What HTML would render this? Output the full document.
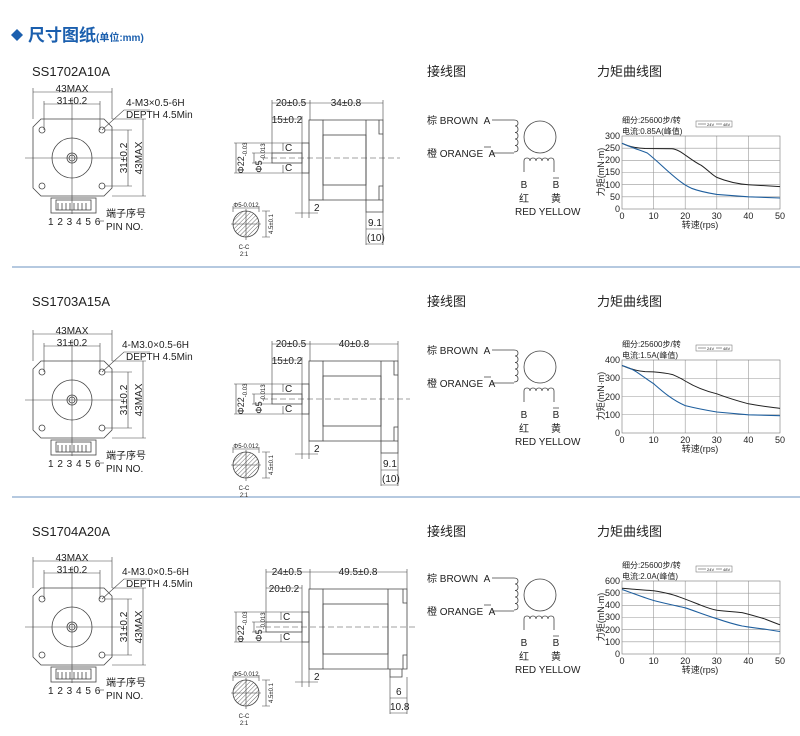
<!DOCTYPE html>
<html><head><meta charset="utf-8"><style>
html,body{margin:0;padding:0;background:#fff;}
svg{display:block;}
text{font-family:"Liberation Sans","Noto Sans CJK SC",sans-serif;fill:#222;}
</style></head><body>
<svg width="800" height="736" viewBox="0 0 800 736" xmlns="http://www.w3.org/2000/svg">
<defs>
<pattern id="hatch" width="3" height="3" patternUnits="userSpaceOnUse" patternTransform="rotate(45)"><line x1="0" y1="0" x2="0" y2="3" stroke="#444" stroke-width="0.8"/></pattern>
<g id="front" fill="none" stroke="#444" stroke-width="0.8">
<polygon points="41,119 104,119 112,127 112,188 104,196 41,196 33,188 33,127"/>
<circle cx="72" cy="158" r="20"/><circle cx="72" cy="158" r="5"/><circle cx="72" cy="158" r="3"/>
<circle cx="42" cy="130" r="3"/><circle cx="102" cy="130" r="3"/><circle cx="42" cy="186" r="3"/><circle cx="102" cy="186" r="3"/>
<line x1="25" y1="158" x2="122" y2="158" stroke-width="0.6"/><line x1="72" y1="97" x2="72" y2="214" stroke-width="0.6"/>
<rect x="51" y="198" width="45" height="15"/><rect x="56" y="200" width="35" height="10"/>
<path d="M58,203v7M62,203v7M66,203v7M70,203v7M74,203v7M78,203v7M82,203v7M86,203v7"/>
<path d="M33,119V88M112,119V88M33,92H112M44,130V101M100,130V101M44,104H100" stroke-width="0.6"/>
<path d="M104,130H132M104,186H132M128,130V186M112,119H146M112,196H146M143,119V196" stroke-width="0.6"/>
<path d="M102,130L124,110H150" stroke-width="0.6"/>
<path d="M98,221H104" stroke-width="0.6"/>
</g>
</defs>

<!-- header -->
<polygon points="17,29 23,35 17,41 11,35" fill="#1b5fae"/>
<text x="28" y="41" style="font-size:17px;fill:#1b5fae;font-weight:bold">尺寸图纸<tspan style="font-size:10px">(单位:mm)</tspan></text>

<line x1="12" y1="267" x2="800" y2="267" stroke="#6b93c0" stroke-width="1"/>
<line x1="12" y1="497" x2="800" y2="497" stroke="#6b93c0" stroke-width="1"/>

<!-- titles -->
<g style="font-size:13px">
<text x="32" y="76">SS1702A10A</text><text x="32" y="306">SS1703A15A</text><text x="32" y="536">SS1704A20A</text>
<text x="427" y="76">接线图</text><text x="427" y="306">接线图</text><text x="427" y="536">接线图</text>
<text x="597" y="76">力矩曲线图</text><text x="597" y="306">力矩曲线图</text><text x="597" y="536">力矩曲线图</text>
</g>

<!-- front views -->
<g id="fv1">
<use href="#front"/>
<g style="font-size:10px">
<text x="72" y="92" text-anchor="middle">43MAX</text>
<text x="72" y="104" text-anchor="middle">31±0.2</text>
<text x="126" y="106">4-M3×0.5-6H</text>
<text x="126" y="118">DEPTH 4.5Min</text>
<text transform="translate(127,158) rotate(-90)" text-anchor="middle">31±0.2</text>
<text transform="translate(142,158) rotate(-90)" text-anchor="middle">43MAX</text>
<text x="48" y="225" letter-spacing="0.5">1 2 3 4 5 6</text>
<text x="106" y="217">端子序号</text><text x="106" y="230">PIN NO.</text>
</g></g>
<g transform="translate(0,242)">
<use href="#front"/>
<g style="font-size:10px">
<text x="72" y="92" text-anchor="middle">43MAX</text>
<text x="72" y="104" text-anchor="middle">31±0.2</text>
<text x="122" y="106">4-M3.0×0.5-6H</text>
<text x="126" y="118">DEPTH 4.5Min</text>
<text transform="translate(127,158) rotate(-90)" text-anchor="middle">31±0.2</text>
<text transform="translate(142,158) rotate(-90)" text-anchor="middle">43MAX</text>
<text x="48" y="225" letter-spacing="0.5">1 2 3 4 5 6</text>
<text x="106" y="217">端子序号</text><text x="106" y="230">PIN NO.</text>
</g></g>
<g transform="translate(0,469)">
<use href="#front"/>
<g style="font-size:10px">
<text x="72" y="92" text-anchor="middle">43MAX</text>
<text x="72" y="104" text-anchor="middle">31±0.2</text>
<text x="122" y="106">4-M3.0×0.5-6H</text>
<text x="126" y="118">DEPTH 4.5Min</text>
<text transform="translate(127,158) rotate(-90)" text-anchor="middle">31±0.2</text>
<text transform="translate(142,158) rotate(-90)" text-anchor="middle">43MAX</text>
<text x="48" y="225" letter-spacing="0.5">1 2 3 4 5 6</text>
<text x="106" y="217">端子序号</text><text x="106" y="230">PIN NO.</text>
</g></g>

<!-- side view 1 -->
<g fill="none" stroke="#444" stroke-width="0.8">
<rect x="309" y="120" width="14" height="80"/><rect x="323" y="135" width="43" height="50"/>
<path d="M323,120H366V200H323M366,120H383V200H366M379,120v14h4M379,200v-14h4M366,200v12h17v-12"/>
<rect x="302" y="143" width="7" height="30"/><rect x="272" y="153" width="30" height="10"/>
<line x1="262" y1="158" x2="400" y2="158" stroke-dasharray="6,3" stroke-width="0.6"/>
<g stroke-width="0.6">
<path d="M272,153V100M310,120V100M383,120V100M272,103H383M302,143V116M272,119H302"/>
<path d="M302,173V218M309,200V218M295,213H318"/>
<path d="M366,212V245M383,212V245M366,229H383M366,244H383"/>
<path d="M283,143V151M283,165V173"/>
<path d="M234,143H302M234,173H302M252,153H272M252,163H272M236,143V173M254,153V163"/>
</g>
<circle cx="246" cy="224" r="13" fill="url(#hatch)"/>
<path d="M246,209V240M231,224H261M233,208H259M233,206V212M259,206V212M262,211H270M262,237H270M266,211V237" stroke-width="0.6"/>
</g>
<g style="font-size:10px">
<text x="291" y="106" text-anchor="middle">20±0.5</text><text x="346" y="106" text-anchor="middle">34±0.8</text>
<text x="287" y="123" text-anchor="middle">15±0.2</text>
<text x="285" y="151">C</text><text x="285" y="171">C</text>
<text x="314" y="211">2</text><text x="368" y="226">9.1</text><text x="367" y="241">(10)</text>
<text transform="translate(244,158) rotate(-90)" text-anchor="middle" style="font-size:9px">Φ22<tspan style="font-size:6px" dy="3">-0.03</tspan></text>
<text transform="translate(262,158) rotate(-90)" text-anchor="middle" style="font-size:9px">Φ5<tspan style="font-size:6px" dy="3">-0.013</tspan></text>
<text x="246" y="207" text-anchor="middle" style="font-size:6px">Φ5-0.012</text>
<text transform="translate(273,224) rotate(-90)" text-anchor="middle" style="font-size:6px">4.5±0.1</text>
<text x="244" y="249" text-anchor="middle" style="font-size:6px">C-C</text><text x="244" y="256" text-anchor="middle" style="font-size:6px">2:1</text>
</g>

<!-- side view 2 -->
<g transform="translate(0,241)">
<g fill="none" stroke="#444" stroke-width="0.8">
<rect x="309" y="120" width="14" height="80"/><rect x="323" y="135" width="58" height="50"/>
<path d="M323,120H381V200H323M381,120H398V200H381M394,120v14h4M394,200v-14h4M381,200v12h17v-12"/>
<rect x="302" y="143" width="7" height="30"/><rect x="272" y="153" width="30" height="10"/>
<line x1="262" y1="158" x2="410" y2="158" stroke-dasharray="6,3" stroke-width="0.6"/>
<g stroke-width="0.6">
<path d="M272,153V100M310,120V100M398,120V100M272,103H398M302,143V116M272,119H302"/>
<path d="M302,173V218M309,200V218M295,213H318"/>
<path d="M381,212V245M398,212V245M381,229H398M381,244H398"/>
<path d="M283,143V151M283,165V173"/>
<path d="M234,143H302M234,173H302M252,153H272M252,163H272M236,143V173M254,153V163"/>
</g>
<circle cx="246" cy="224" r="13" fill="url(#hatch)"/>
<path d="M246,209V240M231,224H261M233,208H259M233,206V212M259,206V212M262,211H270M262,237H270M266,211V237" stroke-width="0.6"/>
</g>
<g style="font-size:10px">
<text x="291" y="106" text-anchor="middle">20±0.5</text><text x="354" y="106" text-anchor="middle">40±0.8</text>
<text x="287" y="123" text-anchor="middle">15±0.2</text>
<text x="285" y="151">C</text><text x="285" y="171">C</text>
<text x="314" y="211">2</text><text x="383" y="226">9.1</text><text x="382" y="241">(10)</text>
<text transform="translate(244,158) rotate(-90)" text-anchor="middle" style="font-size:9px">Φ22<tspan style="font-size:6px" dy="3">-0.03</tspan></text>
<text transform="translate(262,158) rotate(-90)" text-anchor="middle" style="font-size:9px">Φ5<tspan style="font-size:6px" dy="3">-0.013</tspan></text>
<text x="246" y="207" text-anchor="middle" style="font-size:6px">Φ5-0.012</text>
<text transform="translate(273,224) rotate(-90)" text-anchor="middle" style="font-size:6px">4.5±0.1</text>
<text x="244" y="249" text-anchor="middle" style="font-size:6px">C-C</text><text x="244" y="256" text-anchor="middle" style="font-size:6px">2:1</text>
</g></g>

<!-- side view 3 -->
<g transform="translate(0,469)">
<g fill="none" stroke="#444" stroke-width="0.8">
<rect x="309" y="120" width="14" height="80"/><rect x="323" y="135" width="65" height="50"/>
<path d="M323,120H388V200H323M388,120H407V200H388M403,120v14h4M403,200v-14h4M390,200v8h12v-8"/>
<rect x="302" y="143" width="7" height="30"/><rect x="266" y="153" width="36" height="10"/>
<line x1="256" y1="158" x2="416" y2="158" stroke-dasharray="6,3" stroke-width="0.6"/>
<g stroke-width="0.6">
<path d="M266,153V100M310,120V100M407,120V100M266,103H407M302,143V116M266,119H302"/>
<path d="M302,173V218M309,200V218M295,213H318"/>
<path d="M390,208V245M407,208V245M390,229H407M390,244H407"/>
<path d="M281,143V151M281,165V173"/>
<path d="M234,143H302M234,173H302M252,153H266M252,163H266M236,143V173M254,153V163"/>
</g>
<circle cx="246" cy="224" r="13" fill="url(#hatch)"/>
<path d="M246,209V240M231,224H261M233,208H259M233,206V212M259,206V212M262,211H270M262,237H270M266,211V237" stroke-width="0.6"/>
</g>
<g style="font-size:10px">
<text x="287" y="106" text-anchor="middle">24±0.5</text><text x="358" y="106" text-anchor="middle">49.5±0.8</text>
<text x="284" y="123" text-anchor="middle">20±0.2</text>
<text x="283" y="151">C</text><text x="283" y="171">C</text>
<text x="314" y="211">2</text><text x="396" y="226">6</text><text x="390" y="241">10.8</text>
<text transform="translate(244,158) rotate(-90)" text-anchor="middle" style="font-size:9px">Φ22<tspan style="font-size:6px" dy="3">-0.03</tspan></text>
<text transform="translate(262,158) rotate(-90)" text-anchor="middle" style="font-size:9px">Φ5<tspan style="font-size:6px" dy="3">-0.013</tspan></text>
<text x="246" y="207" text-anchor="middle" style="font-size:6px">Φ5-0.012</text>
<text transform="translate(273,224) rotate(-90)" text-anchor="middle" style="font-size:6px">4.5±0.1</text>
<text x="244" y="249" text-anchor="middle" style="font-size:6px">C-C</text><text x="244" y="256" text-anchor="middle" style="font-size:6px">2:1</text>
</g></g>

<!-- wiring -->
<defs><g id="wire">
<g fill="none" stroke="#444" stroke-width="0.8">
<path d="M492,120H514M492,153H514"/>
<path d="M514,120q4,0 4,3q0,3 -3,3q3,0 3,3.5q0,3 -3,3q3,0 3,3.5q0,3 -3,3q3,0 3,3.5q0,3 -3,3q3,0 3,3.5q0,3 -4,3"/>
<circle cx="540" cy="137" r="16"/>
<path d="M524,172V161q0,-3 3,-3q3,0 3,3q0,-3 3,-3q3,0 3,3q0,-3 3,-3q3,0 3,3q0,-3 3,-3q3,0 3,3q0,-3 3,-3q3,0 3,3V172"/>
</g></g></defs>
<g id="wt">
<use href="#wire"/>
<g style="font-size:10px">
<text x="427" y="124">棕 BROWN&#160;&#160;A</text>
<text x="427" y="157">橙 ORANGE&#160;&#160;A</text><line x1="484" y1="147" x2="491" y2="147" stroke="#333" stroke-width="0.7"/>
<text x="524" y="188" text-anchor="middle">B</text><text x="556" y="188" text-anchor="middle">B</text><line x1="553" y1="178" x2="559" y2="178" stroke="#333" stroke-width="0.7"/>
<text x="524" y="202" text-anchor="middle">红</text><text x="556" y="202" text-anchor="middle">黄</text>
<text x="515" y="215">RED YELLOW</text>
</g></g>
<g transform="translate(0,230)">
<use href="#wire"/>
<g style="font-size:10px">
<text x="427" y="124">棕 BROWN&#160;&#160;A</text>
<text x="427" y="157">橙 ORANGE&#160;&#160;A</text><line x1="484" y1="147" x2="491" y2="147" stroke="#333" stroke-width="0.7"/>
<text x="524" y="188" text-anchor="middle">B</text><text x="556" y="188" text-anchor="middle">B</text><line x1="553" y1="178" x2="559" y2="178" stroke="#333" stroke-width="0.7"/>
<text x="524" y="202" text-anchor="middle">红</text><text x="556" y="202" text-anchor="middle">黄</text>
<text x="515" y="215">RED YELLOW</text>
</g></g>
<g transform="translate(0,458)">
<use href="#wire"/>
<g style="font-size:10px">
<text x="427" y="124">棕 BROWN&#160;&#160;A</text>
<text x="427" y="157">橙 ORANGE&#160;&#160;A</text><line x1="484" y1="147" x2="491" y2="147" stroke="#333" stroke-width="0.7"/>
<text x="524" y="188" text-anchor="middle">B</text><text x="556" y="188" text-anchor="middle">B</text><line x1="553" y1="178" x2="559" y2="178" stroke="#333" stroke-width="0.7"/>
<text x="524" y="202" text-anchor="middle">红</text><text x="556" y="202" text-anchor="middle">黄</text>
<text x="515" y="215">RED YELLOW</text>
</g></g>

<!-- charts -->
<defs><g id="cframe" fill="none" stroke-width="0.6">
<path d="M653.6,136V209M685.2,136V209M716.8,136V209M748.4,136V209" stroke="#999"/>
<rect x="622" y="136" width="158" height="73" stroke="#777"/>
<rect x="696" y="121" width="36" height="6" stroke="#666" stroke-width="0.5"/>
<path d="M698,124H706M716,124H722" stroke="#333" stroke-width="0.5"/>
</g></defs>

<g>
<use href="#cframe"/>
<path d="M622,196.8H780M622,184.7H780M622,172.5H780M622,160.3H780M622,148.2H780" stroke="#999" stroke-width="0.6"/>
<path d="M622,143.3C630,147 637,148.2 645,148.5L672,148.7C680,149 690,160 701,165.2C708,170 712,175 716.8,177.4C728,182 738,184 748.4,184.7L780,186.6" fill="none" stroke="#222" stroke-width="1"/>
<path d="M622,143.3C632,148 640,150 647.3,153C656,160 662,166 669.4,172.5C678,180 684,185 691.5,188.3C700,191.5 708,193 716.8,194.4L748.4,196.8L780,198" fill="none" stroke="#1f5f9e" stroke-width="1.1"/>
<g style="font-size:9px" text-anchor="end"><text x="620" y="139">300</text><text x="620" y="151">250</text><text x="620" y="163">200</text><text x="620" y="175">150</text><text x="620" y="188">100</text><text x="620" y="200">50</text><text x="620" y="212">0</text></g>
</g>
<g transform="translate(0,224)">
<use href="#cframe"/>
<path d="M622,190.75H780M622,172.5H780M622,154.25H780" stroke="#999" stroke-width="0.6"/>
<path d="M622,141.5C630,145 637,147 645,147.6L653.6,147.9C662,148.5 668,149.5 672.6,150.6C678,153 682,155 685.2,157C695,163 705,167 716.8,169.8C728,174 738,177 748.4,179.8C760,182 770,183 780,184.4" fill="none" stroke="#222" stroke-width="1"/>
<path d="M622,141.5C630,144 634,146 637.8,148.8C644,153 648,156 653.6,159.7C662,167 672,176 685.2,181.6C695,184 705,186 716.8,188L748.4,190.8L780,191.7" fill="none" stroke="#1f5f9e" stroke-width="1.1"/>
<g style="font-size:9px" text-anchor="end"><text x="620" y="139">400</text><text x="620" y="157">300</text><text x="620" y="176">200</text><text x="620" y="194">100</text><text x="620" y="212">0</text></g>
</g>
<g transform="translate(0,445)">
<use href="#cframe"/>
<path d="M622,196.8H780M622,184.7H780M622,172.5H780M622,160.3H780M622,148.2H780" stroke="#999" stroke-width="0.6"/>
<path d="M622,143.3C635,144.5 645,145 653.6,145.7C665,147.5 672,149 678.9,151.8C688,155 695,158 701,160.3C708,163 712,164.5 716.8,165.2C728,166.5 735,166.8 742.1,167.6C752,170 758,172 764.2,173.7C770,176 775,178 780,179.8" fill="none" stroke="#222" stroke-width="1"/>
<path d="M622,144.5C635,149 645,153 653.6,155.5C665,158.5 675,160.5 685.2,162.8C695,166 705,170 716.8,173.7C728,177.5 735,179.5 742.1,181C752,182.5 758,183.5 764.2,184C770,185 775,185.8 780,186.5" fill="none" stroke="#1f5f9e" stroke-width="1.1"/>
<g style="font-size:9px" text-anchor="end"><text x="620" y="139">600</text><text x="620" y="151">500</text><text x="620" y="163">400</text><text x="620" y="175">300</text><text x="620" y="188">200</text><text x="620" y="200">100</text><text x="620" y="212">0</text></g>
</g>

<g style="font-size:8px">
<text x="622" y="123">细分:25600步/转</text><text x="622" y="134">电流:0.85A(峰值)</text>
<text x="622" y="347">细分:25600步/转</text><text x="622" y="358">电流:1.5A(峰值)</text>
<text x="622" y="568">细分:25600步/转</text><text x="622" y="579">电流:2.0A(峰值)</text>
</g>
<g style="font-size:4px;fill:#444"><text x="707" y="126">24V</text><text x="723" y="126">48V</text><text x="707" y="350">24V</text><text x="723" y="350">48V</text><text x="707" y="571">24V</text><text x="723" y="571">48V</text></g>

<g style="font-size:9px" text-anchor="middle">
<text x="622" y="219">0</text><text x="653.6" y="219">10</text><text x="685.2" y="219">20</text><text x="716.8" y="219">30</text><text x="748.4" y="219">40</text><text x="780" y="219">50</text>
<text x="622" y="443">0</text><text x="653.6" y="443">10</text><text x="685.2" y="443">20</text><text x="716.8" y="443">30</text><text x="748.4" y="443">40</text><text x="780" y="443">50</text>
<text x="622" y="664">0</text><text x="653.6" y="664">10</text><text x="685.2" y="664">20</text><text x="716.8" y="664">30</text><text x="748.4" y="664">40</text><text x="780" y="664">50</text>
<text x="700" y="228">转速(rps)</text><text x="700" y="452">转速(rps)</text><text x="700" y="673">转速(rps)</text>
<text transform="translate(604,172) rotate(-90)">力矩(mN·m)</text>
<text transform="translate(604,396) rotate(-90)">力矩(mN·m)</text>
<text transform="translate(604,617) rotate(-90)">力矩(mN·m)</text>
</g>
</svg>
</body></html>
